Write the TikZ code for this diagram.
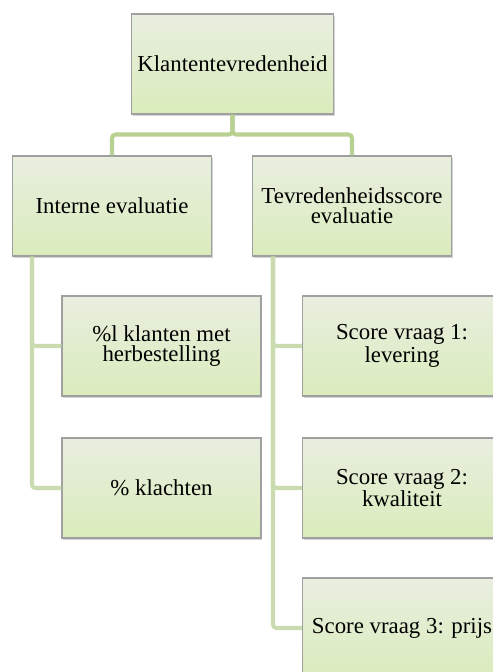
\documentclass[tikz,border=0pt]{standalone}
\usepackage{fontspec}
\setmainfont{Liberation Serif}
\usetikzlibrary{positioning,shadows}

\definecolor{boxtop}{RGB}{233,238,224}
\definecolor{boxbot}{RGB}{218,236,188}
\definecolor{boxline}{RGB}{160,160,160}
\definecolor{linktop}{RGB}{184,208,146}
\definecolor{linksub}{RGB}{202,219,176}

\tikzset{
  kpibox/.style={draw=boxline, line width=0.6pt, top color=boxtop, bottom color=boxbot,
    minimum width=3.98cm, minimum height=2cm, align=center, font=\fontsize{13}{11.5}\selectfont,
    drop shadow={opacity=0.35, shadow xshift=0.6pt, shadow yshift=-1.2pt}},
  link/.style={draw=linktop, line width=2.3pt, rounded corners=2pt},
  sublink/.style={draw=linksub, line width=2.3pt, rounded corners=2pt}
}

\begin{document}
\begin{tikzpicture}[x=0.02cm, y=-0.02cm]
\useasboundingbox (0,0) rectangle (493,672);
\clip (0,0) rectangle (493,672);

\node[kpibox] (kt) at (232.5,64) {Klantentevredenheid};
\node[kpibox] (ie) at (112,206) {Interne evaluatie};
\node[kpibox] (tse) at (352,206) {Tevredenheidsscore\\evaluatie};

\node[kpibox] (herb) at (161.5,346) {\%l klanten met\\herbestelling};
\node[kpibox] (klacht) at (161.5,488) {\% klachten};

\node[kpibox] (lev) at (402,346) {Score vraag 1:\\levering};
\node[kpibox] (kwal) at (402,488) {Score vraag 2:\\kwaliteit};
\node[kpibox] (prijs) at (402,628) {Score vraag 3: prijs};

\draw[link] (kt.south) -- ++(0,20) -| (ie.north);
\draw[link] (kt.south) -- ++(0,20) -| (tse.north);

\draw[sublink] ([xshift=0.4cm]ie.south west) |- (herb.west);
\draw[sublink] ([xshift=0.4cm]ie.south west) |- (klacht.west);
\draw[sublink] ([xshift=0.42cm]tse.south west) |- (lev.west);
\draw[sublink] ([xshift=0.42cm]tse.south west) |- (kwal.west);
\draw[sublink] ([xshift=0.42cm]tse.south west) |- (prijs.west);
\end{tikzpicture}
\end{document}
